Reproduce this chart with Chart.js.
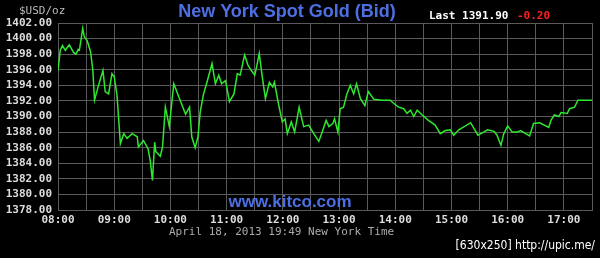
<!DOCTYPE html>
<html>
<head>
<meta charset="utf-8">
<script src="https://cdn.jsdelivr.net/npm/chart.js@4"></script>
<style>
  html, body { margin: 0; padding: 0; background: #000; }
  #wrap { width: 600px; height: 258px; position: relative; }
</style>
</head>
<body>
<div id="wrap"><canvas id="goldChart" width="600" height="258"></canvas></div>
<script>
// time of each trade, in hours (08.00 = 8:00 New York time)
const times = [
  8.00, 8.04, 8.08, 8.13, 8.20, 8.28, 8.32, 8.36, 8.38, 8.44, 8.47, 8.52, 8.58, 8.62, 8.65,
  8.72, 8.80, 8.84, 8.90, 8.96, 9.00, 9.05, 9.11, 9.17, 9.23, 9.32, 9.41, 9.43, 9.52, 9.60,
  9.64, 9.68, 9.72, 9.74, 9.82, 9.86, 9.91, 9.98, 10.06, 10.15, 10.27, 10.34, 10.38, 10.44,
  10.49, 10.53, 10.59, 10.65, 10.74, 10.80, 10.86, 10.91, 10.98, 11.05, 11.13, 11.19, 11.24,
  11.32, 11.38, 11.44, 11.50, 11.54, 11.58, 11.63, 11.69, 11.76, 11.82, 11.85, 11.92, 11.99,
  12.04, 12.08, 12.15, 12.21, 12.29, 12.37, 12.46, 12.55, 12.64, 12.70, 12.77, 12.82, 12.89,
  12.92, 12.98, 13.02, 13.08, 13.14, 13.20, 13.26, 13.31, 13.38, 13.46, 13.52, 13.62, 13.77,
  13.91, 13.97, 14.06, 14.15, 14.21, 14.27, 14.33, 14.39, 14.48, 14.59, 14.71, 14.80, 14.89,
  14.98, 15.04, 15.13, 15.25, 15.34, 15.47, 15.57, 15.64, 15.76, 15.81, 15.88, 15.93, 16.00,
  16.08, 16.17, 16.23, 16.32, 16.39, 16.46, 16.57, 16.65, 16.73, 16.77, 16.83, 16.91, 16.95,
  17.06, 17.10, 17.19, 17.25, 17.50
];
const prices = [
  1395.9, 1398.5, 1399.1, 1398.5, 1399.2, 1398.2, 1398.0, 1398.6, 1398.5, 1401.3, 1400.2, 1399.7, 1398.3, 1395.9, 1392.1,
  1394.0, 1395.9, 1393.2, 1392.9, 1395.5, 1395.1, 1392.7, 1386.5, 1387.8, 1387.2, 1387.8, 1387.4, 1386.1, 1386.9, 1385.9,
  1384.4, 1381.8, 1386.7, 1385.5, 1384.9, 1386.1, 1391.2, 1388.7, 1394.2, 1392.5, 1390.3, 1391.2, 1387.4, 1386.0,
  1387.4, 1390.6, 1392.9, 1394.4, 1396.8, 1394.2, 1395.3, 1394.2, 1394.6, 1391.9, 1392.9, 1395.5, 1395.3,
  1397.9, 1396.6, 1395.9, 1395.3, 1396.6, 1398.1, 1395.3, 1392.3, 1394.4, 1393.8, 1394.4, 1391.7, 1389.3,
  1389.7, 1387.8, 1389.3, 1388.0, 1391.2, 1388.7, 1388.9, 1387.8, 1386.8, 1388.0, 1389.5, 1388.7, 1389.1,
  1389.7, 1388.0, 1391.0, 1391.2, 1392.9, 1394.0, 1392.9, 1394.2, 1392.3, 1391.4, 1393.2, 1392.2, 1392.1,
  1392.1, 1391.7, 1391.2, 1391.0, 1390.4, 1390.8, 1390.0, 1390.8, 1390.2, 1389.5, 1388.9, 1387.8, 1388.2,
  1388.3, 1387.6, 1388.3, 1388.8, 1389.2, 1387.6, 1388.0, 1388.3, 1388.1, 1387.6, 1386.3, 1387.8, 1388.8,
  1388.0, 1388.0, 1388.2, 1387.8, 1387.5, 1389.1, 1389.2, 1388.9, 1388.6, 1389.5, 1390.2, 1390.0, 1390.5,
  1390.4, 1391.0, 1391.2, 1392.1, 1392.1
];

// ticks
const gridHours = [8, 8.5, 9, 9.5, 10, 10.5, 11, 11.5, 12, 12.5, 13, 13.5, 14, 14.5, 15, 15.5, 16, 16.5, 17, 17.5];
const hourLabels = ['08:00', '09:00', '10:00', '11:00', '12:00', '13:00', '14:00', '15:00', '16:00', '17:00'];
const priceTicks = [1378, 1380, 1382, 1384, 1386, 1388, 1390, 1392, 1394, 1396, 1398, 1400, 1402];

const lastPrice = '1391.90';
const change = '-0.20';

const mono = "'DejaVu Sans Mono', 'Liberation Mono', monospace";

// texts around the chart (title, last price, date...)
const textsPlugin = {
    id: 'kitcoTexts',
    afterDraw(chart) {
        const c = chart.ctx;
        c.save();
        c.textBaseline = 'middle';

        c.font = "bold 18px 'Liberation Sans', Arial, sans-serif";
        c.fillStyle = '#4d6fe3';
        c.textAlign = 'center';
        c.fillText('New York Spot Gold (Bid)', 287, 12);

        c.font = "bold 17px 'Liberation Sans', Arial, sans-serif";
        c.fillText('www.kitco.com', 290, 202);

        c.textAlign = 'left';
        c.font = '11px ' + mono;
        c.fillStyle = '#bbbbbb';
        c.fillText('$USD/oz', 19, 11);

        c.font = 'bold 11px ' + mono;
        c.fillStyle = '#ffffff';
        c.fillText('Last ' + lastPrice, 429, 16);
        c.fillStyle = '#ff2020';
        c.fillText(change, 517, 16);

        c.font = '11px ' + mono;
        c.fillStyle = '#aaaaaa';
        c.fillText('April 18, 2013 19:49 New York Time', 169, 232);

        c.textAlign = 'right';
        c.font = "12px 'DejaVu Sans Condensed', 'Liberation Sans Narrow', sans-serif";
        c.fillStyle = '#ffffff';
        c.fillText('[630x250] http://upic.me/', 595, 246);
        c.restore();
    }
};

const bgPlugin = {
    id: 'blackBg',
    beforeDraw(chart) {
        const c = chart.ctx;
        c.save();
        c.fillStyle = '#000000';
        c.fillRect(0, 0, chart.width, chart.height);
        c.restore();
    }
};

new Chart(document.getElementById('goldChart'), {
    type: 'line',
    data: {
        datasets: [{
            data: times.map((t, i) => ({ x: t, y: prices[i] })),
            borderColor: '#2ee82e',
            borderWidth: 1.5,
            pointRadius: 0,
            tension: 0
        }]
    },
    options: {
        responsive: false,
        animation: false,
        layout: { padding: { left: 0, top: 23, right: 8, bottom: 28 } },
        plugins: {
            legend: { display: false },
            tooltip: { enabled: false }
        },
        scales: {
            x: {
                type: 'linear',
                min: 8,
                max: 17.5,
                afterBuildTicks: s => { s.ticks = gridHours.map(v => ({ value: v })); },
                afterFit: s => { s.height = 20; },
                grid: { color: '#5a5a5a', lineWidth: 1, drawTicks: false },
                border: { color: '#5a5a5a' },
                ticks: {
                    autoSkip: false,
                    maxRotation: 0,
                    padding: 4,
                    color: '#dddddd',
                    font: { family: mono, size: 11, weight: 'bold' },
                    callback: v => Number.isInteger(v) ? hourLabels[v - 8] : ''
                }
            },
            y: {
                min: 1378,
                max: 1402,
                afterBuildTicks: s => { s.ticks = priceTicks.map(v => ({ value: v })); },
                afterFit: s => { s.width = 58; },
                grid: { color: '#5a5a5a', lineWidth: 1, drawTicks: false },
                border: { color: '#5a5a5a' },
                ticks: {
                    autoSkip: false,
                    padding: 6,
                    color: '#dddddd',
                    font: { family: mono, size: 11, weight: 'bold' },
                    callback: v => v.toFixed(2)
                }
            }
        }
    },
    plugins: [bgPlugin, textsPlugin]
});
</script>
</body>
</html>
